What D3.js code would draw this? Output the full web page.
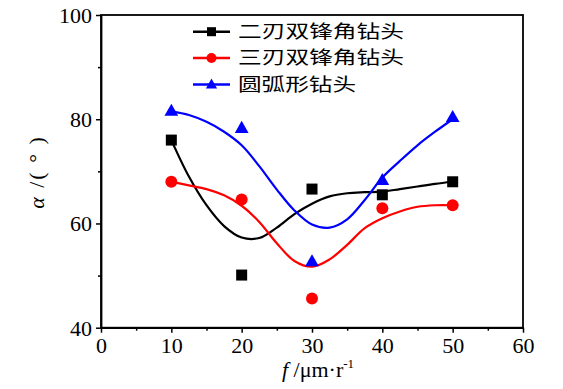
<!DOCTYPE html>
<html><head><meta charset="utf-8">
<script src="https://cdn.jsdelivr.net/npm/d3@7"></script>
<style>body{margin:0;background:#fff}svg{display:block}
.serif{font-family:"Liberation Serif","Times New Roman",Times,serif}
.cjk{font-family:"Noto Sans CJK SC","Noto Sans CJK JP",sans-serif}</style>
</head><body>
<svg id="c" width="563" height="389"></svg>
<script>
const xVals = [10, 20, 30, 40, 50];
const seriesNames = ["二刃双锋角钻头", "三刃双锋角钻头", "圆弧形钻头"];
const blackPts = [76, 50.1, 66.6, 65.5, 68];
const redPts = [68, 64.6, 45.6, 62.9, 63.5];
const bluePts = [81.6, 78.3, 52.7, 68.3, 80.4];
const fitX = [10, 12.5, 15, 17.5, 20, 22.5, 25, 27.5, 30, 32.5, 35, 37.5, 40, 42.5, 45, 47.5, 50];
const blackFit = [76, 69, 63.5, 59.5, 57.3, 57.2, 59.2, 61.8, 63.8, 65.2, 65.8, 66, 66.1, 66.6, 67.1, 67.6, 68];
const redFit = [68, 67.3, 66.6, 65.4, 63.4, 60.3, 56.2, 52.8, 51.7, 53.1, 55.9, 59.1, 61, 62.3, 63.2, 63.5, 63.5];
const blueFit = [81.5, 80.8, 79.5, 77.6, 75, 71, 66.5, 62.5, 59.8, 59.2, 60.8, 64.5, 68.8, 72, 75, 77.6, 80];
const xTicks = [0, 10, 20, 30, 40, 50, 60];
const yTicks = [40, 60, 80, 100];

const svg = d3.select("#c");
const L = 101, R = 523, T = 15, B = 327.7;
const x = d3.scaleLinear().domain([0, 60]).range([L, R]);
const y = d3.scaleLinear().domain([40, 100]).range([B, T]);

const series = [
  {name: seriesNames[0], pts: blackPts, fit: blackFit, color: "#000000", shape: "square"},
  {name: seriesNames[1], pts: redPts, fit: redFit, color: "#ff0000", shape: "circle"},
  {name: seriesNames[2], pts: bluePts, fit: bluePts && blueFit, color: "#0000ff", shape: "triangle"}
];

// frame
svg.append("rect").attr("x", L).attr("y", T).attr("width", R - L).attr("height", B - T)
  .attr("fill", "none").attr("stroke", "#000").attr("stroke-width", 1.8);

// axes
const xAxis = d3.axisBottom(x).tickValues(xTicks).tickSize(5).tickSizeOuter(0).tickFormat(d3.format("d"));
const gx = svg.append("g").attr("transform", `translate(0,${B})`).call(xAxis);
gx.attr("font-family", null).attr("font-size", null);
gx.select(".domain").attr("stroke-width", 1.8);
gx.selectAll(".tick line").attr("stroke-width", 1.5);
gx.selectAll("text").attr("class", "serif").style("font-size", "22px").attr("fill", "#000").attr("dy", "0.72em").attr("y", 9);
const xMinor = d3.axisBottom(x).tickValues([5, 15, 25, 35, 45, 55]).tickSize(3).tickSizeOuter(0).tickFormat("");
const gxm = svg.append("g").attr("transform", `translate(0,${B})`).call(xMinor);
gxm.select(".domain").remove();
gxm.selectAll(".tick line").attr("stroke-width", 1.5);

const yAxis = d3.axisLeft(y).tickValues(yTicks).tickSize(5).tickSizeOuter(0).tickFormat(d3.format("d"));
const gy = svg.append("g").attr("transform", `translate(${L},0)`).call(yAxis);
gy.attr("font-family", null).attr("font-size", null);
gy.select(".domain").attr("stroke-width", 1.8);
gy.selectAll(".tick line").attr("stroke-width", 1.5);
gy.selectAll("text").attr("class", "serif").style("font-size", "22px").attr("fill", "#000").attr("x", -9).attr("dy", "0.34em");
const yMinor = d3.axisLeft(y).tickValues([50, 70, 90]).tickSize(3).tickSizeOuter(0).tickFormat("");
const gym = svg.append("g").attr("transform", `translate(${L},0)`).call(yMinor);
gym.select(".domain").remove();
gym.selectAll(".tick line").attr("stroke-width", 1.5);

// curves
const line = d3.line().x((d, i) => x(fitX[i])).y(d => y(d)).curve(d3.curveCatmullRom.alpha(0.5));
series.forEach(s => {
  svg.append("path").attr("d", line(s.fit)).attr("fill", "none")
    .attr("stroke", s.color).attr("stroke-width", 2.2);
});

function marker(g, shape, cx, cy, color, size) {
  if (shape === "square") {
    g.append("rect").attr("x", cx - size / 2).attr("y", cy - size / 2).attr("width", size).attr("height", size).attr("fill", color);
  } else if (shape === "circle") {
    g.append("circle").attr("cx", cx).attr("cy", cy).attr("r", size / 2 + 0.5).attr("fill", color);
  } else {
    const w = size * 1.25, h = size * 1.1;
    g.append("path").attr("d", `M${cx},${cy - h * 0.6}L${cx + w / 2},${cy + h * 0.4}L${cx - w / 2},${cy + h * 0.4}Z`).attr("fill", color);
  }
}

series.forEach(s => {
  const g = svg.append("g");
  s.pts.forEach((v, i) => marker(g, s.shape, x(xVals[i]), y(v), s.color, 11));
});

// legend
const legY = [31.7, 58, 84.5];
series.forEach((s, i) => {
  const g = svg.append("g");
  g.append("line").attr("x1", 193).attr("x2", 230).attr("y1", legY[i]).attr("y2", legY[i])
    .attr("stroke", s.color).attr("stroke-width", 2.5);
  marker(g, s.shape, 211.5, legY[i], s.color, 9);
  g.append("text").attr("class", "cjk").attr("x", 238).attr("y", legY[i]).attr("dy", "0.36em")
    .style("font-size", "18px").attr("fill", "#000")
    .attr("textLength", s.name.length * 24 - 2).attr("lengthAdjust", "spacingAndGlyphs")
    .text(s.name);
});

// axis titles
const xt = svg.append("text").attr("class", "serif").attr("x", 318).attr("y", 377).attr("text-anchor", "middle")
  .style("font-size", "22px").attr("fill", "#000");
xt.append("tspan").attr("font-style", "italic").text("f");
xt.append("tspan").text(" /μm·r");
xt.append("tspan").style("font-size", "13px").attr("dy", -9).text("-1");

const yt = svg.append("text").attr("class", "serif").attr("transform", "translate(44,172) rotate(-90)").attr("text-anchor", "middle")
  .style("font-size", "22px").style("letter-spacing", "2px").attr("fill", "#000");
yt.append("tspan").attr("font-style", "italic").text("α");
yt.append("tspan").text(" /( ° )");
</script>
</body></html>
